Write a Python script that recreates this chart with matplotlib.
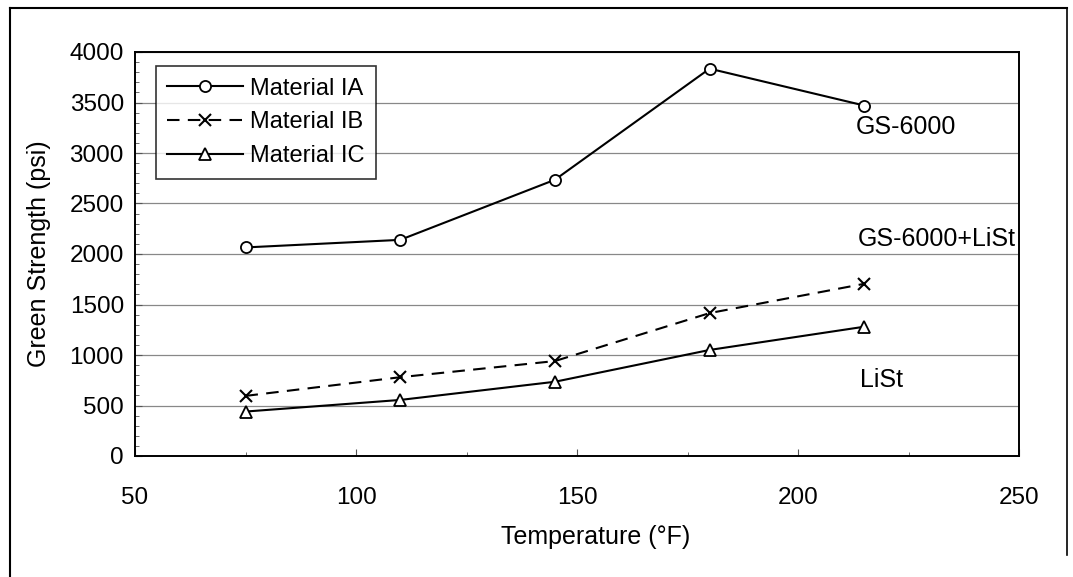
import matplotlib
matplotlib.use("Agg")
import matplotlib.pyplot as plt
from matplotlib.ticker import MultipleLocator
from matplotlib.lines import Line2D

plt.rcParams['font.family'] = ['Liberation Sans', 'DejaVu Sans']

temps = [75, 110, 145, 180, 215]
material_ia = [2065, 2140, 2735, 3835, 3470]
material_ib = [595, 780, 940, 1415, 1705]
material_ic = [440, 555, 735, 1050, 1280]

labels = ["Material IA", "Material IB", "Material IC"]
notes = [("GS-6000", 224.5, 3260), ("GS-6000+LiSt", 231.5, 2150), ("LiSt", 219, 755)]

fig = plt.figure(figsize=(10.73, 5.77), dpi=100)
ax = fig.add_axes([135 / 1073, 1 - 456 / 577, 884 / 1073, 404 / 577])

ax.plot(temps, material_ia, '-', color='black', lw=1.5, marker='o', ms=8,
        mfc='white', mec='black', mew=1.3, label=labels[0])
ax.plot(temps, material_ib, '--', color='black', lw=1.5, marker='x', ms=8,
        mew=1.5, dashes=(6, 4), label=labels[1])
ax.plot(temps, material_ic, '-', color='black', lw=1.5, marker='^', ms=8,
        mfc='white', mec='black', mew=1.3, label=labels[2])

for txt, x, y in notes:
    ax.text(x, y, txt, fontsize=18, ha='center', va='center')

ax.set_xlim(50, 250)
ax.set_ylim(0, 4000)
ax.xaxis.set_major_locator(MultipleLocator(50))
ax.xaxis.set_minor_locator(MultipleLocator(25))
ax.yaxis.set_major_locator(MultipleLocator(500))
ax.yaxis.set_minor_locator(MultipleLocator(100))
ax.tick_params(which='both', direction='in', labelsize=17.5, color='#555555')
ax.tick_params(which='major', length=5)
ax.tick_params(which='minor', length=3)
ax.tick_params(axis='x', pad=22)
ax.tick_params(axis='y', pad=8)
ax.grid(axis='y', which='major', color='#888888', lw=0.9)
ax.set_axisbelow(True)
for s in ax.spines.values():
    s.set_linewidth(1.4)

ax.set_xlabel("Temperature (°F)", fontsize=18)
ax.xaxis.set_label_coords((596 - 135) / 884, (456 - 525) / 404)
ax.set_ylabel("Green Strength (psi)", fontsize=18, labelpad=13.5)

leg = ax.legend(loc='upper left', bbox_to_anchor=(0.01, 0.995), fontsize=17,
                frameon=True, fancybox=False, edgecolor='black',
                handlelength=3.2, handletextpad=0.3, borderpad=0.5,
                labelspacing=0.5)
leg.get_frame().set_linewidth(1.2)

# outer frame around the figure
fig.add_artist(Line2D([10 / 1073, 10 / 1073], [0, 1 - 8 / 577], color='black', lw=1.5))
fig.add_artist(Line2D([10 / 1073, 1067 / 1073], [1 - 8 / 577, 1 - 8 / 577], color='black', lw=1.5))
fig.add_artist(Line2D([1067 / 1073, 1067 / 1073], [1 - 8 / 577, 1 - 555 / 577], color='black', lw=1.2))

fig.savefig("out.png", dpi=100)
